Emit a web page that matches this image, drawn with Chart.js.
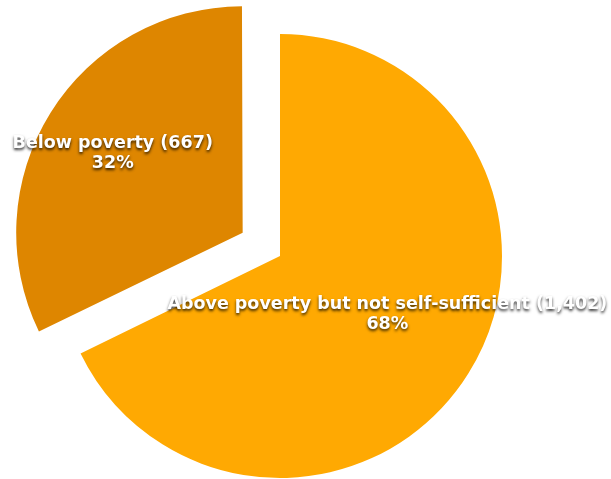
<!DOCTYPE html>
<html>
<head>
<meta charset="utf-8">
<script src="https://cdn.jsdelivr.net/npm/chart.js@4/dist/chart.umd.min.js"></script>
<style>
  html, body { margin: 0; padding: 0; background: #fff; }
  #wrap { width: 611px; height: 479px; position: relative; }
</style>
</head>
<body>
<div id="wrap"><canvas id="povertyPie"></canvas></div>
<script>
// Pie data: household counts
const categories = ['Above poverty but not self-sufficient', 'Below poverty'];
const households = [1402, 667];
const sliceColors = ['#FFA902', '#DE8600'];

// label placement (fraction of radius from slice centre, extra vertical nudge)
const LABEL_FRACTION = [0.57, 0.69];
const LABEL_NUDGE_Y = [-9, 2];

const pieLabels = {
    id: 'pieLabels',
    afterDatasetsDraw(chart) {
        const ctx = chart.ctx;
        const meta = chart.getDatasetMeta(0);
        const data = chart.data.datasets[0].data;
        const total = data.reduce((a, b) => a + b, 0);

        meta.data.forEach((arc, i) => {
            const mid = (arc.startAngle + arc.endAngle) / 2;
            const shift = (arc.options.offset || 0) / 4; // same as ArcElement.draw
            const cx = arc.x + Math.cos(mid) * shift;
            const cy = arc.y + Math.sin(mid) * shift;
            const r = arc.outerRadius * LABEL_FRACTION[i];
            const x = cx + Math.cos(mid) * r;
            const y = cy + Math.sin(mid) * r + LABEL_NUDGE_Y[i];

            const pct = Math.round(data[i] / total * 100) + '%';
            const line1 = `${chart.data.labels[i]} (${data[i].toLocaleString('en-US')})`;

            ctx.save();
            ctx.font = 'bold 17.5px "DejaVu Sans", sans-serif';
            ctx.textAlign = 'center';
            ctx.textBaseline = 'middle';
            ctx.fillStyle = '#ffffff';
            ctx.shadowColor = 'rgba(0, 0, 0, 0.8)';
            ctx.shadowBlur = 3;
            ctx.shadowOffsetX = 0;
            ctx.shadowOffsetY = 2;
            ctx.fillText(line1, x, y - 10);
            ctx.fillText(pct, x, y + 10);
            ctx.restore();
        });
    }
};

new Chart(document.getElementById('povertyPie').getContext('2d'), {
    type: 'pie',
    data: {
        labels: categories,
        datasets: [{
            data: households,
            backgroundColor: sliceColors,
            borderWidth: 0,
            offset: [0, 176],
            hoverOffset: 0
        }]
    },
    options: {
        responsive: true,
        maintainAspectRatio: false,
        animation: false,
        radius: 222,
        layout: { padding: { left: 0, right: 51, top: 33, bottom: 0 } },
        plugins: {
            legend: { display: false },
            tooltip: { enabled: false }
        }
    },
    plugins: [pieLabels]
});
</script>
</body>
</html>
